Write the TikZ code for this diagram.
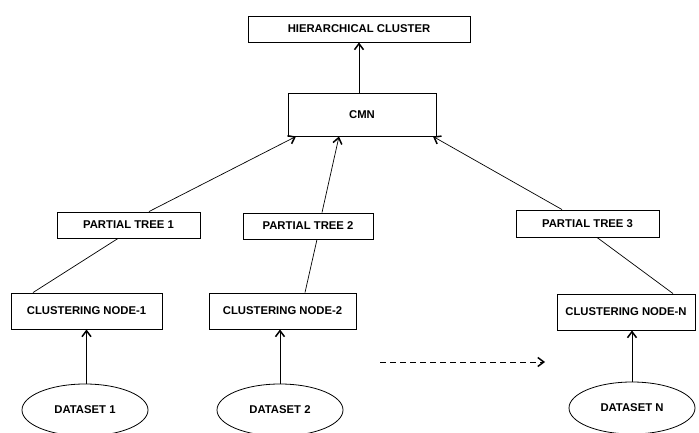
\documentclass[tikz,border=0pt]{standalone}
\usepackage{fontspec}
\setmainfont{Liberation Sans}
\usetikzlibrary{arrows.meta,shapes.geometric}

\begin{document}
\begin{tikzpicture}[
  x=1pt,
  y=1pt,
  >={Straight Barb[length=6pt,width=9pt,line width=1.5pt]},
  boxnode/.style={
    draw=black,
    fill=white,
    line width=0.9pt,
    align=center,
    inner sep=0pt,
    font=\fontsize{11.3}{13}\selectfont\bfseries
  },
  datanode/.style={
    draw=black,
    ellipse,
    line width=0.8pt,
    inner sep=0pt,
    minimum width=126pt,
    minimum height=52pt,
    font=\fontsize{11.3}{13}\selectfont\bfseries
  },
  link/.style={draw=black,line width=0.7pt}
]

\useasboundingbox (0,0) rectangle (699,432);

\node[boxnode,minimum width=222pt,minimum height=26pt] (hc) at (359,403) {HIERARCHICAL CLUSTER};
\node[boxnode,minimum width=148pt,minimum height=43pt] (cmn) at (362,317.5) {CMN};

\node[boxnode,minimum width=143pt,minimum height=26pt] (pt1) at (128.5,207) {PARTIAL TREE 1};
\node[boxnode,minimum width=130pt,minimum height=26pt] (pt2) at (308,206) {PARTIAL TREE 2};
\node[boxnode,minimum width=143pt,minimum height=27pt] (pt3) at (587.5,208.5) {PARTIAL TREE 3};

\node[boxnode,minimum width=151pt,minimum height=36pt] (cn1) at (86.5,121) {CLUSTERING NODE-1};
\node[boxnode,minimum width=147pt,minimum height=36pt] (cn2) at (282.5,121) {CLUSTERING NODE-2};
\node[boxnode,minimum width=138pt,minimum height=36pt] (cnN) at (626,120) {CLUSTERING NODE-N};

\node[datanode] (ds1) at (85,22) {DATASET 1};
\node[datanode] (ds2) at (280,22) {DATASET 2};
\node[datanode] (dsN) at (632,24) {DATASET N};

% up to the cluster
\draw[link,->] ([xshift=-3pt]cmn.north) -- (hc.south);

% partial trees into CMN
\draw[link,->] ([xshift=20.5pt]pt1.north) -- ([xshift=-66pt]cmn.south);
\draw[link,->] ([xshift=14pt]pt2.north) -- ([xshift=-23pt]cmn.south);
\draw[link,->] ([xshift=-25.5pt]pt3.north) -- ([xshift=71pt]cmn.south);

% clustering nodes to partial trees
\draw[link] ([xshift=-53.5pt]cn1.north) -- ([xshift=-10.5pt]pt1.south);
\draw[link] ([xshift=22.5pt]cn2.north) -- ([xshift=9pt]pt2.south);
\draw[link] ([xshift=47pt]cnN.north) -- ([xshift=9.5pt]pt3.south);

% datasets
\draw[link,->] (ds1.north -| cn1.south) -- (cn1.south);
\draw[link,->] (ds2.north) -- (ds2.north |- cn2.south);
\draw[link,->] (dsN.north) -- (dsN.north |- cnN.south);

% more nodes
\coordinate (dashstart) at (380,70);
\coordinate (dashend) at (545,70);
\draw[link,dash pattern=on 6pt off 4pt,->] (dashstart) -- (dashend);

\end{tikzpicture}
\end{document}
